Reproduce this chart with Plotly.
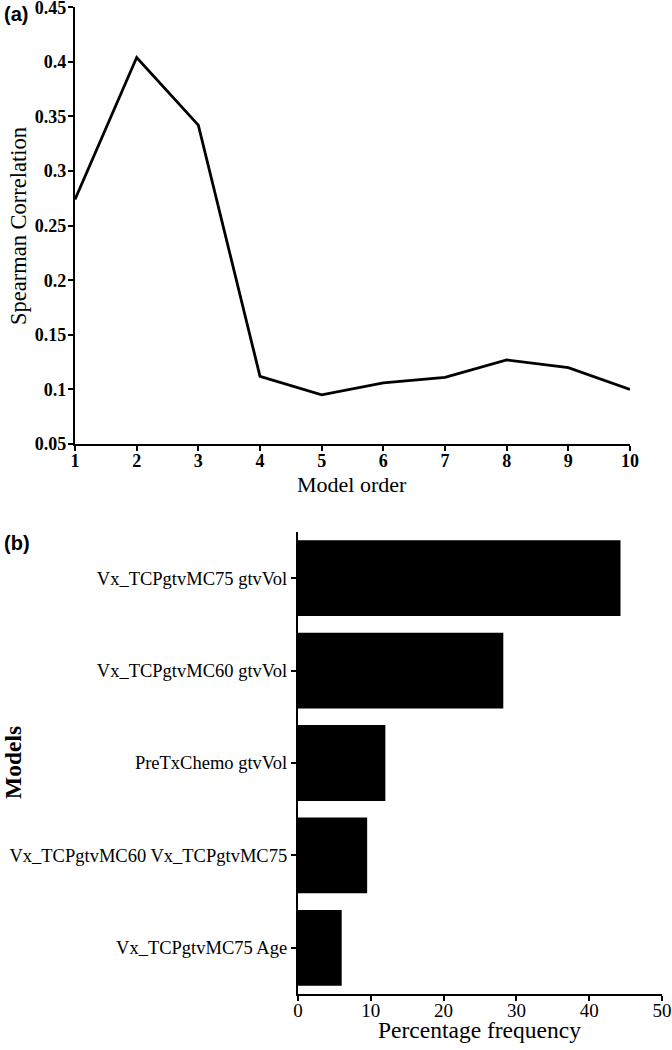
import plotly.graph_objects as go

model_order = [1, 2, 3, 4, 5, 6, 7, 8, 9, 10]
spearman = [0.274, 0.404, 0.342, 0.112, 0.095, 0.106, 0.111, 0.127, 0.120, 0.100]

models = ["Vx_TCPgtvMC75 gtvVol", "Vx_TCPgtvMC60 gtvVol", "PreTxChemo gtvVol",
          "Vx_TCPgtvMC60 Vx_TCPgtvMC75", "Vx_TCPgtvMC75 Age"]
pct_freq = [44.3, 28.2, 12.0, 9.5, 6.0]

y_ticks = [0.05, 0.1, 0.15, 0.2, 0.25, 0.3, 0.35, 0.4, 0.45]
y_ticktext = ["0.05", "0.1", "0.15", "0.2", "0.25", "0.3", "0.35", "0.4", "0.45"]
x2_ticks = [0, 10, 20, 30, 40, 50]

SERIF = "Liberation Serif, Times New Roman, serif"
SANS = "Liberation Sans, Arial, sans-serif"
W, H = 672, 1050

fig = go.Figure()
fig.add_trace(go.Scatter(x=model_order, y=spearman, mode="lines",
                         line=dict(color="black", width=2.8),
                         xaxis="x", yaxis="y", showlegend=False, cliponaxis=False))
fig.add_trace(go.Bar(x=pct_freq, y=models, orientation="h",
                     marker=dict(color="black", line=dict(width=0)),
                     xaxis="x2", yaxis="y2", showlegend=False))

axis_common = dict(showline=True, linecolor="black", linewidth=2.2, ticks="outside",
                   ticklen=5, tickwidth=1.5, tickcolor="black", showgrid=False,
                   zeroline=False, mirror=False, automargin=False,
                   ticklabeloverflow="allow")

fig.update_layout(
    template="none",
    width=W, height=H,
    margin=dict(l=0, r=0, t=0, b=0, pad=0),
    paper_bgcolor="white", plot_bgcolor="white",
    bargap=0.18,
    xaxis=dict(domain=[75 / W, 630 / W], anchor="y", range=[1, 10],
               tickvals=model_order, ticktext=[str(v) for v in model_order],
               tickfont=dict(family=SERIF, size=18, color="black", weight="bold"),
               ticklabelstandoff=-6,
               **axis_common),
    yaxis=dict(domain=[1 - 444 / H, 1 - 7 / H], anchor="x", range=[0.05, 0.4502],
               tickvals=y_ticks, ticktext=y_ticktext,
               tickfont=dict(family=SERIF, size=18, color="black", weight="bold"),
               ticklabelstandoff=-2,
               **axis_common),
    xaxis2=dict(domain=[298 / W, 662 / W], anchor="y2", range=[0, 50],
                tickvals=x2_ticks,
                tickfont=dict(family=SERIF, size=19, color="black"),
                ticklabelstandoff=-7,
                **axis_common),
    yaxis2=dict(domain=[1 - 994 / H, 1 - 532 / H], anchor="x2",
                categoryorder="array", categoryarray=models[::-1],
                range=[-0.5, 4.5],
                tickfont=dict(family=SERIF, size=18.5, color="black"),
                **axis_common),
)

ann = [
    dict(text="(a)", x=2 / W, y=1 - 14 / H, xanchor="left", yanchor="middle",
         font=dict(family=SANS, size=20, color="black", weight="bold")),
    dict(text="(b)", x=2 / W, y=1 - 543 / H, xanchor="left", yanchor="middle",
         font=dict(family=SANS, size=20, color="black", weight="bold")),
    dict(text="Spearman Correlation", x=18 / W, y=1 - 226 / H, textangle=-90,
         xanchor="center", yanchor="middle",
         font=dict(family=SERIF, size=22.5, color="black")),
    dict(text="Model order", x=352 / W, y=1 - 484 / H, xanchor="center", yanchor="middle",
         font=dict(family=SERIF, size=22, color="black")),
    dict(text="Models", x=13 / W, y=1 - 763 / H, textangle=-90,
         xanchor="center", yanchor="middle",
         font=dict(family=SERIF, size=23.5, color="black", weight="bold")),
    dict(text="Percentage frequency", x=479 / W, y=1 - 1030 / H, xanchor="center", yanchor="middle",
         font=dict(family=SERIF, size=23.5, color="black")),
]
for a in ann:
    a.update(xref="paper", yref="paper", showarrow=False)
fig.update_layout(annotations=ann)

fig.write_html("out.html", config={"displayModeBar": False},
               post_script="document.body.style.margin='0';document.body.style.padding='0';")
